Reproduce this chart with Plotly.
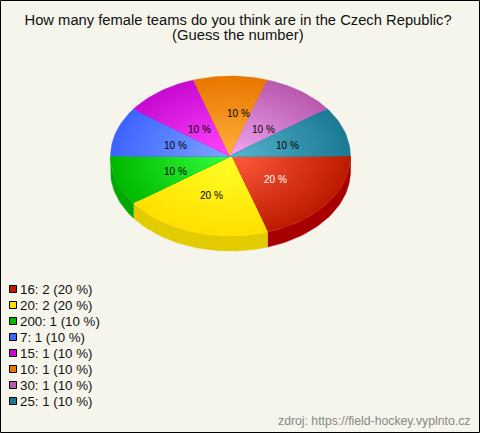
import math
import plotly.graph_objects as go

# ---- data ----
categories = ["16", "20", "200", "7", "15", "10", "30", "25"]
counts = [2, 2, 1, 1, 1, 1, 1, 1]
title_line = "How many female teams do you think are in the Czech Republic?"
subtitle_line = "(Guess the number)"
source_text = "zdroj: https://field-hockey.vyplnto.cz"

# ---- style ----
rim_colors = [(190, 28, 0), (255, 224, 0), (0, 185, 0), (62, 100, 255),
              (200, 10, 210), (232, 120, 0), (185, 90, 175), (28, 122, 148)]
center_colors = [(255, 90, 60), (255, 255, 40), (50, 255, 60), (125, 165, 255),
                 (255, 70, 255), (255, 175, 60), (240, 165, 240), (85, 180, 205)]
side_colors = [(168, 0, 0), (226, 204, 0), (0, 168, 0), (50, 80, 220),
               (170, 0, 170), (200, 100, 0), (160, 70, 150), (20, 100, 120)]
label_colors = ["white"] + ["black"] * 7
label_nudges = [(-3, 0), (-1, 2), (1, 3), (1, 2), (4, 5), (8, -3), (-2, 5), (1, 2)]
BG = "#f5f5ec"
CX, CY, RX, RY, DEPTH = 230.5, 156, 120, 80, 15
RINGS = 28
STEP = 2  # degrees between polygon vertices


def rgb(c):
    return f"rgb({c[0]},{c[1]},{c[2]})"


def arc(a0, a1, frac=1.0, dy=0.0):
    n = max(2, int(abs(a1 - a0) / STEP) + 1)
    xs, ys = [], []
    for i in range(n + 1):
        a = math.radians(a0 + (a1 - a0) * i / n)
        xs.append(CX + RX * frac * math.cos(a))
        ys.append(CY + dy + RY * frac * math.sin(a))
    return xs, ys


total = sum(counts)
fig = go.Figure()
spans = []
start = 0.0
for c in counts:
    end = start + 360.0 * c / total
    spans.append((start, end))
    start = end

# side wall (only the front half, 0..180 degrees, is visible)
for (a0, a1), col in zip(spans, side_colors):
    s0, s1 = max(a0, 0), min(a1, 180)
    if s1 <= s0:
        continue
    x_top, y_top = arc(s0, s1)
    x_bot, y_bot = arc(s1, s0, dy=DEPTH)
    fig.add_trace(go.Scatter(x=x_top + x_bot + [x_top[0]], y=y_top + y_bot + [y_top[0]],
                             mode="lines", fill="toself", fillcolor=rgb(col),
                             line=dict(color=rgb(col), width=0.5), hoverinfo="skip"))

# top face: stacked wedges from the rim inward produce the radial gradient
for (a0, a1), rim, cen in zip(spans, rim_colors, center_colors):
    for k in range(RINGS):
        t = k / (RINGS - 1)
        frac = 1 - k / RINGS
        col = tuple(round(r + (m - r) * t) for r, m in zip(rim, cen))
        xs, ys = arc(a0, a1, frac)
        fig.add_trace(go.Scatter(x=[CX] + xs + [CX], y=[CY] + ys + [CY],
                                 mode="lines", fill="toself", fillcolor=rgb(col),
                                 line=dict(color=rgb(col), width=0.3), hoverinfo="skip"))

# percent labels on the slices
for (a0, a1), c, col, (nx, ny) in zip(spans, counts, label_colors, label_nudges):
    mid = math.radians((a0 + a1) / 2)
    fig.add_annotation(x=CX + 0.49 * RX * math.cos(mid), y=CY + 0.49 * RY * math.sin(mid),
                       text=f"{round(100 * c / total)} %", showarrow=False,
                       xshift=nx, yshift=-ny,
                       font=dict(family="Liberation Sans", size=10, color=col))

# legend
LEG_X, LEG_Y, LEG_STEP = 13, 289, 16
for i, (cat, c, col) in enumerate(zip(categories, counts, rim_colors)):
    y = LEG_Y + i * LEG_STEP
    fig.add_trace(go.Scatter(x=[LEG_X], y=[y], mode="markers", hoverinfo="skip",
                             marker=dict(symbol="square", size=7, color=rgb(col),
                                         line=dict(color="black", width=1))))
    fig.add_annotation(x=LEG_X + 7, y=y, xanchor="left", text=f"{cat}: {c} ({round(100 * c / total)} %)",
                       showarrow=False, xshift=-2,
                       font=dict(family="Liberation Sans", size=13.3, color="#111111"))

fig.add_annotation(x=238, y=35, text=subtitle_line, showarrow=False,
                   font=dict(family="Liberation Sans", size=14.8, color="#111111"))
fig.add_annotation(x=472, y=421, xanchor="right", text=source_text, showarrow=False,
                   font=dict(family="Liberation Sans", size=12.25, color="#888888"))

fig.update_layout(
    width=480, height=433, margin=dict(l=0, r=0, t=0, b=0),
    paper_bgcolor=BG, plot_bgcolor=BG, showlegend=False,
    title=dict(text=title_line, x=0.496, xanchor="center", y=1 - 20 / 433, yanchor="middle",
               font=dict(family="Liberation Sans", size=14.75, color="#111111")),
    xaxis=dict(range=[0, 480], visible=False, fixedrange=True),
    yaxis=dict(range=[433, 0], visible=False, fixedrange=True),
    shapes=[dict(type="rect", xref="x", yref="y", x0=0.5, y0=0.5, x1=479.5, y1=432.5,
                 line=dict(color="black", width=1))],
)
fig.write_html("out.html", config={"displayModeBar": False},
               post_script="document.body.style.margin='0';")
